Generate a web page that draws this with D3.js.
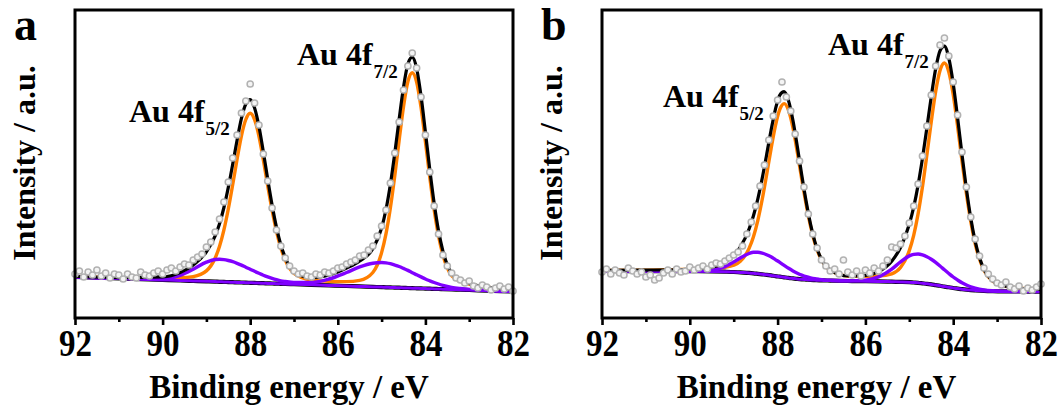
<!DOCTYPE html>
<html>
<head>
<meta charset="utf-8">
<script src="https://cdn.jsdelivr.net/npm/d3@7"></script>
<style>
  html, body { margin: 0; padding: 0; background: #fff; }
  svg { display: block; }
  text { font-family: "Liberation Serif", "Times New Roman", serif; font-weight: bold; fill: #000; }
</style>
</head>
<body>
<svg id="chart" width="1063" height="410"></svg>
<script>
// Binding-energy axis ticks (eV)
const energyTicks = [92, 90, 88, 86, 84, 82];
const minorTicks = [91, 89, 87, 85, 83];

// Measured spectra: binding energy (eV) and intensity (a.u.)
const energyPts = [92.0, 91.9, 91.8, 91.7, 91.6, 91.5, 91.4, 91.3, 91.2, 91.1,
  91.0, 90.9, 90.8, 90.7, 90.6, 90.5, 90.4, 90.3, 90.2, 90.1,
  90.0, 89.9, 89.8, 89.7, 89.6, 89.5, 89.4, 89.3, 89.2, 89.1,
  89.0, 88.9, 88.8, 88.7, 88.6, 88.5, 88.4, 88.3, 88.2, 88.1,
  88.0, 87.9, 87.8, 87.7, 87.6, 87.5, 87.4, 87.3, 87.2, 87.1,
  87.0, 86.9, 86.8, 86.7, 86.6, 86.5, 86.4, 86.3, 86.2, 86.1,
  86.0, 85.9, 85.8, 85.7, 85.6, 85.5, 85.4, 85.3, 85.2, 85.1,
  85.0, 84.9, 84.8, 84.7, 84.6, 84.5, 84.4, 84.3, 84.2, 84.1,
  84.0, 83.9, 83.8, 83.7, 83.6, 83.5, 83.4, 83.3, 83.2, 83.1,
  83.0, 82.9, 82.8, 82.7, 82.6, 82.5, 82.4, 82.3, 82.2, 82.1, 82.0];

const countsA = [44, 47, 41, 46, 43, 48, 42, 45, 40, 44,
  43, 39, 44, 41, 40, 46, 43, 42, 45, 47,
  44, 48, 50, 47, 51, 54, 53, 58, 61, 64,
  71, 76, 86, 99, 116, 136, 160, 183, 205, 217,
  234, 215, 193, 164, 137, 110, 88, 72, 60, 52,
  47, 44, 45, 42, 41, 44, 43, 46, 45, 47,
  50, 51, 54, 56, 58, 62, 63, 68, 72, 82,
  92, 108, 135, 165, 196, 228, 252, 265, 250, 221,
  183, 146, 112, 84, 63, 52, 45, 40, 38, 35,
  37, 32, 30, 33, 31, 28, 30, 32, 29, 31, 27];

const countsB = [46, 49, 44, 48, 45, 43, 50, 47, 44, 46,
  41, 43, 38, 40, 45, 48, 44, 49, 46, 47,
  51, 48, 50, 52, 49, 53, 55, 54, 57, 60,
  63, 66, 72, 84, 96, 112, 132, 153, 178, 202,
  218, 236, 221, 207, 184, 157, 131, 104, 84, 70,
  58, 52, 47, 49, 44, 58, 46, 43, 47, 42,
  48, 45, 50, 47, 52, 58, 71, 70, 74, 82,
  95, 112, 134, 162, 192, 223, 252, 273, 280, 262,
  236, 203, 166, 131, 101, 79, 62, 50, 44, 39,
  35, 33, 36, 31, 29, 32, 27, 30, 28, 31, 34];

// Panel a fit: energies and fitted curves
const gridA = [92, 91, 90, 89.6, 89.3, 89.0, 88.8, 88.7, 88.6, 88.5, 88.4, 88.3, 88.2, 88.1, 88.0,
  87.9, 87.8, 87.7, 87.6, 87.5, 87.4, 87.3, 87.2, 87.0, 86.6, 86.2, 85.8, 85.5, 85.2,
  85.0, 84.9, 84.8, 84.7, 84.6, 84.5, 84.4, 84.3, 84.2, 84.1, 84.0,
  83.9, 83.8, 83.7, 83.6, 83.4, 83.2, 83.0, 82.6, 82.0];
const backgroundA = [41.0, 39.6, 38.1, 37.5, 37.1, 36.7, 36.4, 36.2, 36.1, 35.9, 35.8, 35.6, 35.5, 35.3, 35.2,
  35.1, 34.9, 34.8, 34.6, 34.5, 34.3, 34.2, 34.0, 33.8, 33.2, 32.6, 32.0, 31.6, 31.1,
  30.9, 30.7, 30.6, 30.4, 30.3, 30.1, 30.0, 29.8, 29.7, 29.6, 29.4,
  29.3, 29.1, 29.0, 28.8, 28.5, 28.3, 28.0, 27.4, 26.5];
const metalA = [41.5, 40.4, 40.0, 40.2, 41.4, 47.1, 60.0, 71.8, 88.2, 109.0, 133.2, 158.7, 182.2, 198.5, 204.7,
  198.3, 181.7, 158.1, 132.2, 107.8, 86.7, 70.1, 58.0, 44.7, 37.9, 36.6, 36.4, 37.6, 45.5,
  65.4, 84.1, 109.9, 141.9, 177.5, 211.3, 236.4, 245.3, 236.0, 210.7, 176.5,
  140.7, 108.3, 82.1, 63.0, 42.4, 36.7, 33.8, 30.9, 28.6];
const ionicA = [41.0, 39.6, 39.2, 42.7, 48.8, 55.8, 58.5, 58.7, 58.4, 57.5, 56.3, 54.7, 52.9, 50.8, 48.8,
  46.7, 44.7, 42.8, 41.1, 39.6, 38.3, 37.2, 36.5, 35.5, 35.6, 39.0, 45.5, 51.1, 54.8,
  55.5, 55.1, 54.3, 53.0, 51.5, 49.6, 47.6, 45.3, 43.2, 41.1, 39.0,
  37.2, 35.5, 34.0, 32.7, 30.7, 29.5, 28.6, 27.5, 26.5];
const envelopeA = [41.5, 40.4, 41.1, 45.4, 53.1, 66.2, 82.2, 94.3, 110.5, 130.6, 153.7, 177.8, 199.6, 214.0, 218.3,
  209.9, 191.5, 166.1, 138.7, 112.9, 90.7, 73.1, 60.5, 46.4, 40.3, 43.0, 49.9, 57.1, 69.2,
  90.0, 108.5, 133.6, 164.5, 198.7, 230.8, 254.0, 260.8, 249.5, 222.2, 186.1,
  148.6, 114.7, 87.1, 66.9, 44.6, 37.9, 34.4, 31.0, 28.6];

// Panel b fit: energies and fitted curves
const gridB = [92, 91, 90, 89.5, 89.2, 89.0, 88.85, 88.65, 88.55, 88.45, 88.35, 88.25, 88.15, 88.05,
  87.95, 87.85, 87.75, 87.65, 87.55, 87.45, 87.35, 87.25, 87.15, 87.05,
  86.95, 86.8, 86.4, 86.0, 85.7, 85.4, 85.2,
  85.0, 84.9, 84.8, 84.7, 84.6, 84.5, 84.4, 84.3, 84.2, 84.1, 84.0,
  83.9, 83.8, 83.7, 83.6, 83.5, 83.3, 83.1, 82.9, 82.5, 82.0];
const backgroundB = [47.0, 46.9, 46.8, 46.6, 46.3, 46.0, 45.6, 45.1, 44.7, 44.2, 43.7, 43.2, 42.6, 41.9,
  41.3, 40.7, 40.1, 39.6, 39.1, 38.7, 38.4, 38.1, 37.9, 37.7,
  37.6, 37.4, 37.0, 36.8, 36.6, 36.3, 36.1,
  35.8, 35.5, 35.2, 34.7, 34.2, 33.6, 32.9, 32.2, 31.4, 30.7, 30.0,
  29.4, 28.8, 28.3, 27.9, 27.6, 27.1, 26.8, 26.6, 26.5, 26.4];
const metalB = [47.6, 47.9, 48.7, 49.5, 50.6, 52.7, 56.6, 69.6, 81.3, 97.7, 118.7, 143.2, 168.9, 192.2,
  208.6, 214.4, 207.5, 190.0, 165.5, 138.8, 113.7, 91.9, 74.8, 62.6,
  54.3, 47.6, 42.0, 41.6, 41.9, 44.2, 50.5,
  67.4, 82.7, 104.1, 131.3, 162.9, 196.2, 226.4, 247.5, 255.0, 246.0, 223.5,
  191.8, 157.3, 124.7, 96.6, 74.5, 47.7, 36.8, 32.6, 30.0, 28.7];
const ionicB = [47.0, 46.9, 46.8, 47.9, 51.4, 55.9, 59.9, 64.5, 65.7, 65.7, 64.9, 63.3, 61.2, 58.4,
  55.6, 52.6, 49.7, 47.1, 44.8, 42.9, 41.3, 40.1, 39.2, 38.6,
  38.1, 37.7, 37.1, 37.9, 41.1, 48.9, 56.1,
  62.1, 63.6, 64.0, 63.1, 61.3, 58.8, 55.6, 52.0, 48.2, 44.5, 41.0,
  38.0, 35.2, 33.0, 31.2, 29.9, 28.1, 27.2, 26.7, 26.5, 26.4];
const envelopeB = [47.6, 47.9, 48.7, 50.8, 55.7, 62.6, 70.9, 89.0, 102.3, 119.2, 139.9, 163.3, 187.5, 208.7,
  222.9, 226.3, 217.1, 197.5, 171.2, 143.0, 116.6, 93.9, 76.1, 63.5,
  54.8, 47.9, 42.1, 42.7, 46.4, 56.8, 70.5,
  93.7, 110.8, 132.9, 159.7, 190.0, 221.4, 249.1, 267.3, 271.8, 259.8, 234.5,
  200.4, 163.7, 129.4, 99.9, 76.8, 48.7, 37.2, 32.7, 30.0, 28.7];

const panels = [
  { letter: "a", left: 75, right: 513, grid: gridA, bg: backgroundA, metal: metalA, ionic: ionicA, env: envelopeA, counts: countsA,
    peak52: { x: 129, y: 122 }, peak72: { x: 297, y: 65 } },
  { letter: "b", left: 602, right: 1041, grid: gridB, bg: backgroundB, metal: metalB, ionic: ionicB, env: envelopeB, counts: countsB,
    peak52: { x: 663, y: 107 }, peak72: { x: 828, y: 55 } }
];

const plotTop = 10, plotBottom = 318;
const svg = d3.select("#chart");

panels.forEach(p => {
  const x = d3.scaleLinear().domain([92, 82]).range([p.left, p.right]);
  const y = d3.scaleLinear().domain([0, 308]).range([plotBottom, plotTop]);
  const g = svg.append("g");

  const line = arr => d3.line()
    .x((d, i) => x(p.grid[i]))
    .y(d => y(d))
    .curve(d3.curveMonotoneX)(arr);

  // Shirley background
  g.append("path").attr("d", line(p.bg)).attr("fill", "none")
    .attr("stroke", "#000").attr("stroke-width", 4.2);
  // Au0 doublet component
  g.append("path").attr("d", line(p.metal)).attr("fill", "none")
    .attr("stroke", "#ff7f00").attr("stroke-width", 3.4).attr("stroke-linejoin", "round");
  // Au(+) doublet component
  g.append("path").attr("d", line(p.ionic)).attr("fill", "none")
    .attr("stroke", "#8000ff").attr("stroke-width", 3.4).attr("stroke-linejoin", "round");
  g.append("path").attr("d", line(p.bg)).attr("fill", "none")
    .attr("stroke", "#8000ff").attr("stroke-width", 3);
  // Overall fit envelope
  g.append("path").attr("d", line(p.env)).attr("fill", "none")
    .attr("stroke", "#000").attr("stroke-width", 3.2).attr("stroke-linejoin", "round");

  // Measured points
  g.selectAll("circle.pt").data(p.counts).enter().append("circle")
    .attr("class", "pt")
    .attr("cx", (d, i) => x(energyPts[i]))
    .attr("cy", d => y(d))
    .attr("r", 3.1)
    .attr("fill", "#f4f4f4")
    .attr("stroke", "#b2b2b2")
    .attr("stroke-width", 1.5);

  // Frame
  g.append("rect").attr("x", p.left).attr("y", plotTop)
    .attr("width", p.right - p.left).attr("height", plotBottom - plotTop)
    .attr("fill", "none").attr("stroke", "#000").attr("stroke-width", 3);

  // Bottom axis: major and minor ticks
  const major = g.append("g").attr("transform", `translate(0,${plotBottom})`)
    .call(d3.axisBottom(x).tickValues(energyTicks).tickSize(7).tickPadding(6).tickFormat(d3.format("d")));
  const minor = g.append("g").attr("transform", `translate(0,${plotBottom})`)
    .call(d3.axisBottom(x).tickValues(minorTicks).tickSize(4).tickFormat(""));
  [major, minor].forEach(a => {
    a.select(".domain").remove();
    a.selectAll(".tick line").attr("stroke", "#000").attr("stroke-width", 2.6);
  });
  // Tick labels: tall bold digits, baseline about 38 px under the axis
  major.selectAll(".tick text")
    .style("font-family", '"Liberation Serif", "Times New Roman", serif')
    .style("font-weight", "bold").style("font-size", "33px").attr("fill", "#000")
    .attr("dy", null).attr("y", 38 / 1.13)
    .attr("transform", "scale(1,1.13)");

  // Axis titles
  g.append("text").attr("x", (p.left + p.right) / 2 - 5).attr("y", 398)
    .attr("text-anchor", "middle").style("font-size", "33px").text("Binding energy / eV");
  g.append("text").attr("transform", `translate(${p.left - 40},163) rotate(-90)`)
    .attr("text-anchor", "middle").style("font-size", "32px").text("Intensity / a.u.");

  // Panel letter
  g.append("text").attr("x", p.left - 61).attr("y", 40).style("font-size", "46px").text(p.letter);

  // Peak labels
  const label = (pos, sub) => {
    const t = g.append("text").attr("x", pos.x).attr("y", pos.y).style("font-size", "32px");
    t.append("tspan").text("Au 4f");
    t.append("tspan").attr("dy", 13).attr("dx", 1).style("font-size", "19px").text(sub);
  };
  label(p.peak52, "5/2");
  label(p.peak72, "7/2");
});
</script>
</body>
</html>
